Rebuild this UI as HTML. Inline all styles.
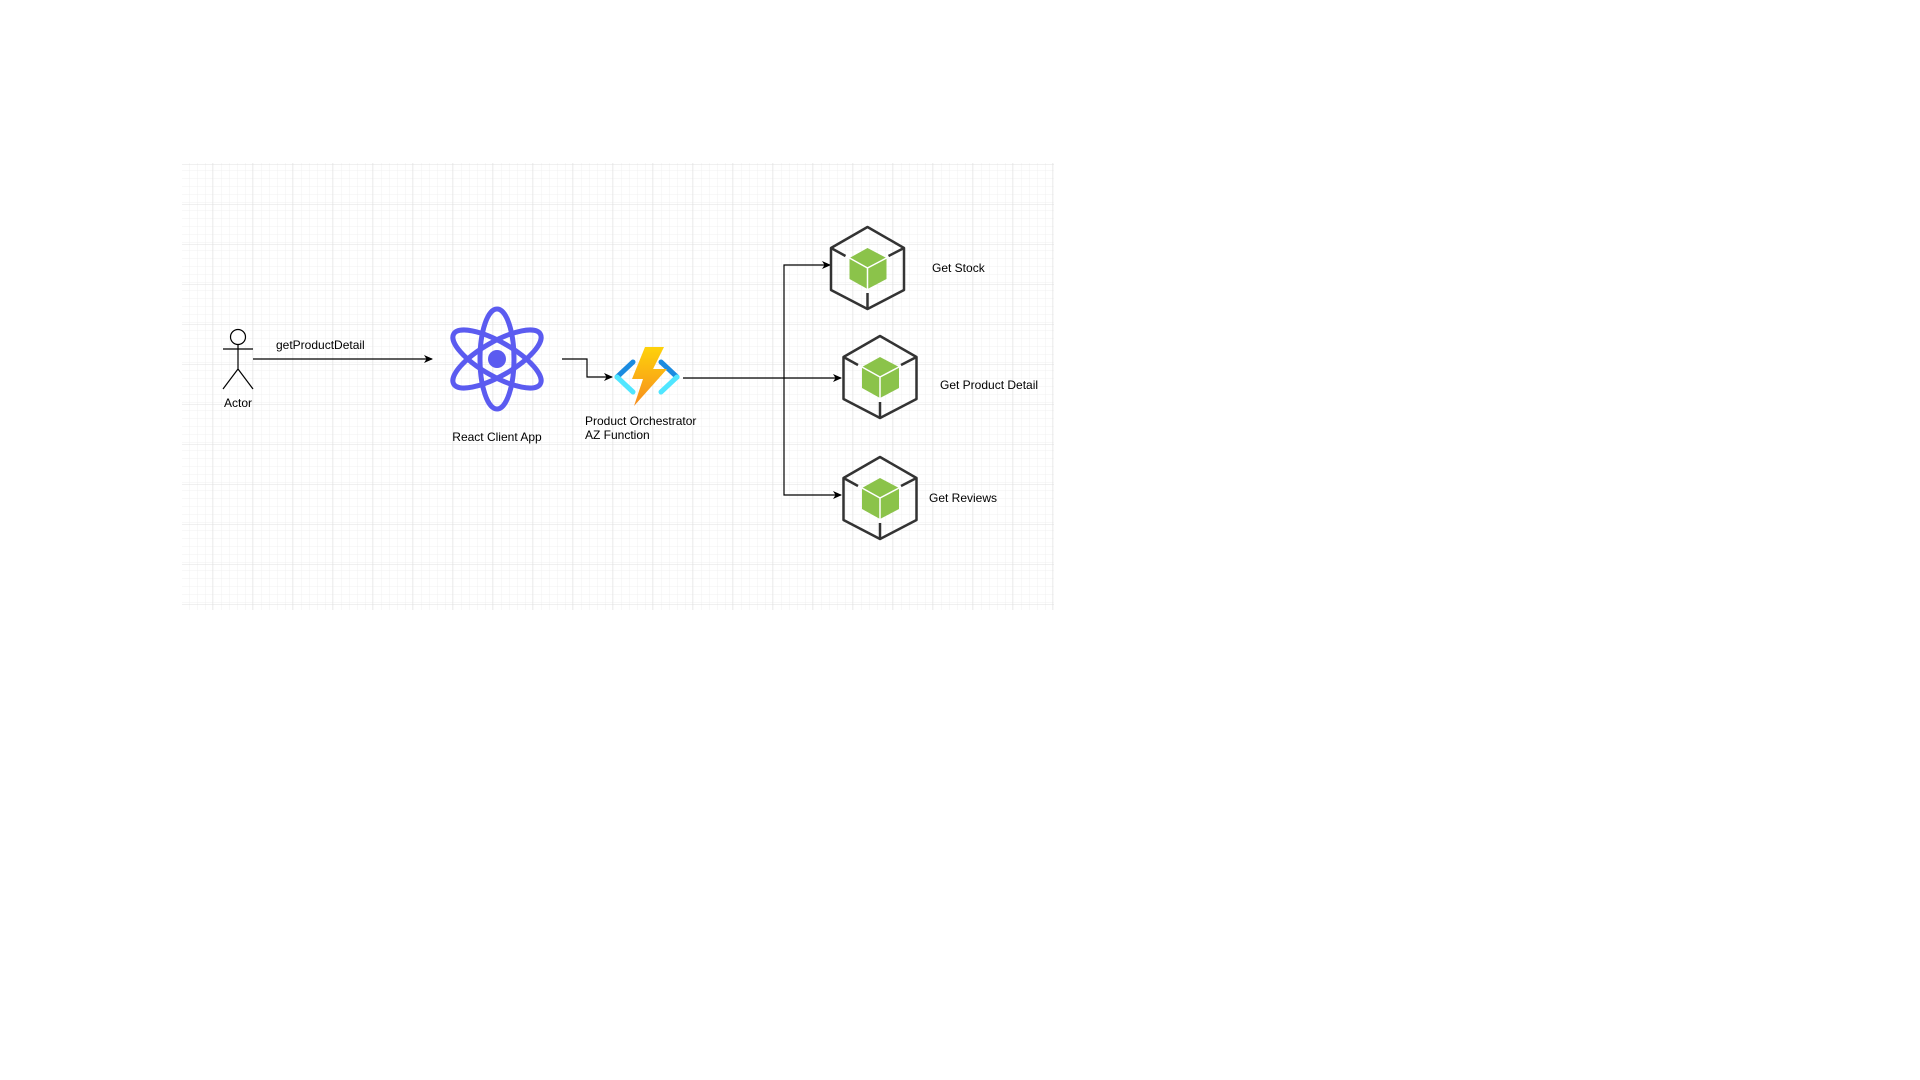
<!DOCTYPE html>
<html><head><meta charset="utf-8"><style>
html,body{margin:0;padding:0;background:#fff;}
svg{display:block;}
text{font-family:"Liberation Sans",Arial,sans-serif;font-size:12px;fill:#000;}
</style></head><body>
<svg width="1920" height="1080" viewBox="0 0 1920 1080" xmlns="http://www.w3.org/2000/svg">
<defs>
<pattern id="minor" x="182" y="163" width="8" height="8" patternUnits="userSpaceOnUse">
<path d="M8 0V8M0 8H8" stroke="#f0f0f0" stroke-width="1" fill="none"/>
</pattern>
<pattern id="major" x="173" y="165" width="40" height="40" patternUnits="userSpaceOnUse">
<path d="M40 0V40M0 40H40" stroke="#e0e0e0" stroke-width="1" fill="none"/>
</pattern>
<marker id="ar" markerWidth="10" markerHeight="10" refX="8" refY="5" orient="auto" markerUnits="userSpaceOnUse">
<path d="M0 1L9 5L0 9L2.5 5Z" fill="#000"/>
</marker>
<g id="node">
<path d="M0 -41L36.5 -20V22L0 41L-36.5 22V-20Z" fill="none" stroke="#333" stroke-width="2.5" stroke-linejoin="round"/>
<path d="M-36.5 -20L-22 -12M36.5 -20L21 -12M0 41V25" stroke="#333" stroke-width="2.5"/>
<path d="M0 -20L19 -10V11L0 21L-18 11V-10Z" fill="#8bc34a"/>
<path d="M0 0L-18 -10M0 0L19 -10M0 0V21" stroke="#fff" stroke-width="1.5"/>
</g>
</defs>
<rect x="182" y="163" width="872" height="447" fill="url(#minor)"/>
<rect x="182" y="163" width="872" height="447" fill="url(#major)"/>

<!-- Actor -->
<g stroke="#000" stroke-width="1.2" fill="none">
<circle cx="238" cy="337" r="7.5" fill="#fff"/>
<path d="M238 344.5V369M223 349H253M238 369L223 389M238 369L253 389"/>
</g>
<text x="238" y="407" text-anchor="middle">Actor</text>

<!-- arrow 1 -->
<path d="M253 359H432" stroke="#000" stroke-width="1.2" fill="none" marker-end="url(#ar)"/>
<text x="276" y="349">getProductDetail</text>

<!-- React -->
<g fill="none" stroke="#5b5bf0" stroke-width="5">
<ellipse cx="497" cy="359" rx="17" ry="50"/>
<ellipse cx="497" cy="359" rx="17" ry="50" transform="rotate(60 497 359)"/>
<ellipse cx="497" cy="359" rx="17" ry="50" transform="rotate(-60 497 359)"/>
</g>
<circle cx="497" cy="359" r="9" fill="#5b5bf0"/>
<text x="497" y="441" text-anchor="middle">React Client App</text>

<!-- connector 2 -->
<path d="M562 359H587V377H612" stroke="#000" stroke-width="1.2" fill="none" marker-end="url(#ar)"/>

<!-- Azure function -->
<defs><linearGradient id="bolt" x1="0" y1="0" x2="0" y2="1"><stop offset="0" stop-color="#fed20a"/><stop offset="1" stop-color="#f78d1e"/></linearGradient></defs>
<path d="M633 362L617 377" stroke="#1b8be0" stroke-width="5" stroke-linecap="round"/>
<path d="M617 377L633 392" stroke="#50e6ff" stroke-width="5" stroke-linecap="round"/>
<path d="M661 362L677 377" stroke="#1b8be0" stroke-width="5" stroke-linecap="round"/>
<path d="M677 377L661 392" stroke="#50e6ff" stroke-width="5" stroke-linecap="round"/>
<path d="M645 347H664L653 369H667L634 406L643 379H632Z" fill="url(#bolt)"/>
<text x="585" y="425">Product Orchestrator</text>
<text x="585" y="439">AZ Function</text>

<!-- fanout -->
<path d="M683 378H841" stroke="#000" stroke-width="1.2" fill="none" marker-end="url(#ar)"/>
<path d="M784 378V265H830" stroke="#000" stroke-width="1.2" fill="none" marker-end="url(#ar)"/>
<path d="M784 378V495H841" stroke="#000" stroke-width="1.2" fill="none" marker-end="url(#ar)"/>

<use href="#node" x="867.5" y="268"/>
<use href="#node" x="880" y="377"/>
<use href="#node" x="880" y="498"/>

<text x="932" y="272">Get Stock</text>
<text x="940" y="389">Get Product Detail</text>
<text x="929" y="502">Get Reviews</text>
</svg>
</body></html>
